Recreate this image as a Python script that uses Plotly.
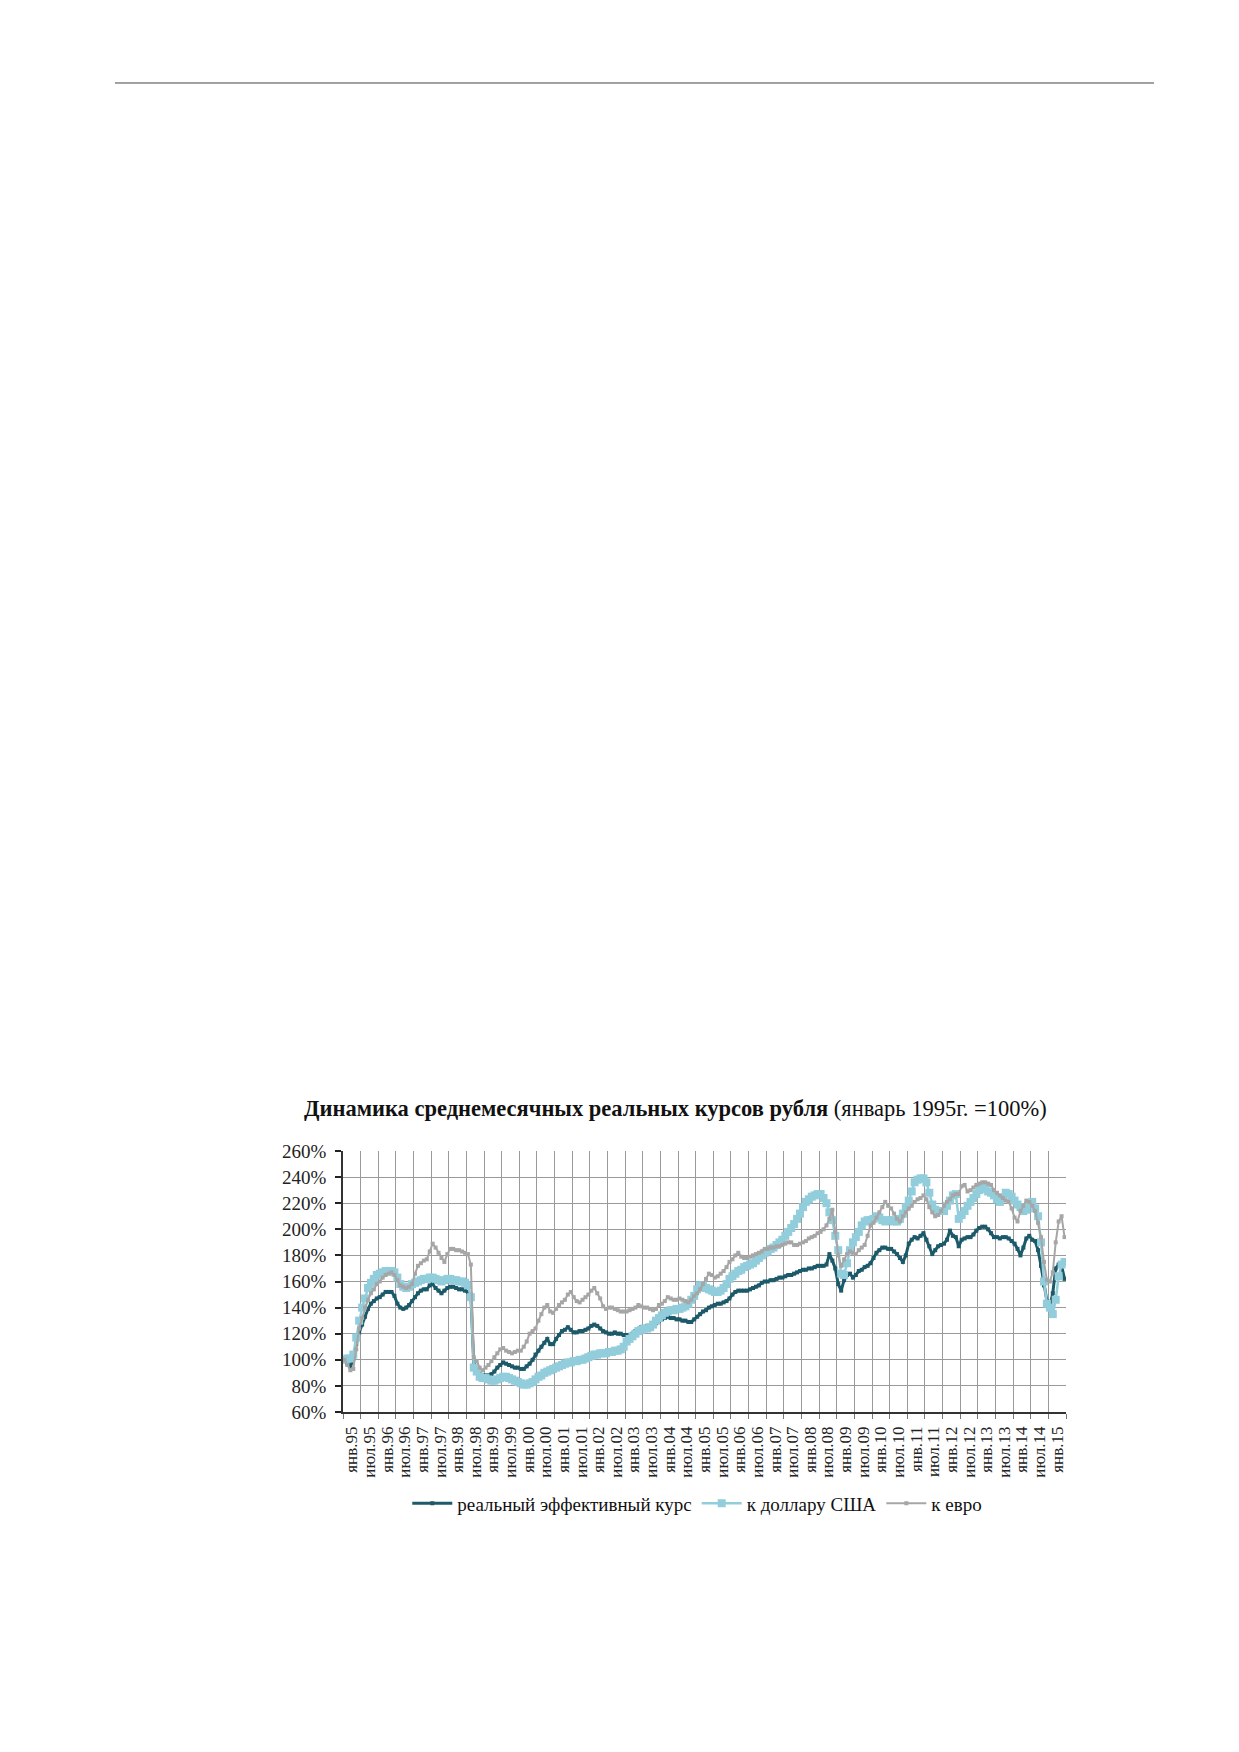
import plotly.graph_objects as go

# monthly values, Jan 1995 - Jun 2015, % of Jan 1995
effective = [
    100, 97, 95, 101, 112, 121, 127, 133, 139, 143, 145, 147,   # 1995
    148, 150, 152, 152, 152, 149, 143, 140, 139, 140, 142, 145,   # 1996
    148, 151, 153, 154, 154, 157, 158, 155, 153, 151, 153, 155,   # 1997
    156, 156, 155, 154, 154, 153, 152, 150, 96, 91, 89, 88,       # 1998
    88, 88, 89, 91, 94, 96, 98, 97, 96, 95, 94, 94,               # 1999
    93, 93, 95, 97, 100, 104, 107, 110, 113, 116, 112, 112,       # 2000
    116, 119, 122, 123, 125, 123, 121, 121, 122, 122, 123, 124,   # 2001
    126, 127, 126, 124, 122, 121, 120, 120, 121, 120, 120, 119,   # 2002
    119, 119, 120, 122, 123, 125, 125, 126, 126, 127, 128, 130,   # 2003
    131, 132, 133, 132, 132, 131, 131, 130, 130, 129, 129, 131,   # 2004
    133, 135, 137, 138, 140, 141, 142, 143, 143, 144, 145, 147,   # 2005
    150, 152, 153, 153, 153, 153, 154, 155, 156, 157, 159, 160,   # 2006
    160, 161, 161, 162, 163, 163, 164, 165, 165, 166, 167, 168,   # 2007
    169, 169, 170, 170, 171, 172, 172, 172, 173, 181, 176, 170,   # 2008
    158, 153, 161, 165, 166, 163, 165, 168, 169, 171, 172, 174,   # 2009
    178, 182, 184, 186, 186, 185, 185, 183, 181, 178, 175, 180,   # 2010
    189, 192, 194, 193, 195, 197, 192, 187, 181, 184, 187, 188,   # 2011
    189, 192, 199, 195, 194, 187, 192, 193, 194, 194, 196, 199,   # 2012
    201, 202, 202, 200, 197, 194, 194, 193, 194, 194, 193, 191,   # 2013
    189, 185, 180, 186, 193, 195, 192, 191, 184, 172, 157, 145,   # 2014
    141, 151, 170, 173, 172, 162,                                 # 2015
]

usd = [
    100, 101, 101, 104, 117, 130, 140, 147, 155, 159, 162, 165,   # 1995
    166, 167, 168, 168, 168, 167, 163, 158, 156, 155, 156, 158,   # 1996
    159, 160, 161, 162, 162, 163, 163, 162, 161, 160, 161, 162,   # 1997
    162, 161, 161, 160, 160, 159, 157, 148, 94, 91, 87, 86,       # 1998
    86, 85, 84, 84, 85, 86, 87, 87, 86, 85, 84, 83,               # 1999
    82, 81, 81, 82, 83, 85, 87, 88, 90, 91, 92, 93,               # 2000
    94, 95, 96, 97, 98, 98, 99, 99, 100, 100, 101, 102,           # 2001
    103, 104, 104, 105, 105, 105, 106, 106, 107, 107, 108, 110,   # 2002
    114, 116, 118, 120, 122, 123, 124, 124, 125, 127, 130, 132,   # 2003
    134, 136, 137, 138, 138, 139, 139, 140, 141, 143, 146, 149,   # 2004
    154, 157, 157, 155, 154, 153, 152, 152, 153, 155, 158, 162,   # 2005
    164, 166, 168, 169, 171, 172, 173, 174, 176, 178, 180, 182,   # 2006
    183, 185, 186, 188, 190, 192, 195, 198, 201, 204, 208, 212,   # 2007
    217, 221, 223, 225, 226, 227, 227, 224, 220, 213, 207, 195,   # 2008
    184, 166, 165, 174, 184, 190, 194, 198, 203, 206, 207, 207,   # 2009
    208, 210, 209, 207, 206, 207, 207, 206, 206, 208, 212, 217,   # 2010
    222, 229, 236, 238, 239, 239, 236, 228, 219, 215, 214, 214,   # 2011
    214, 218, 222, 226, 227, 208, 211, 214, 218, 221, 224, 227,   # 2012
    230, 232, 231, 229, 228, 226, 223, 221, 224, 228, 227, 225,   # 2013
    222, 219, 217, 214, 215, 219, 221, 216, 210, 190, 160, 143,   # 2014
    140, 135, 146, 164, 173, 175,                                 # 2015
]

eur = [
    100, 96, 92, 93, 108, 124, 132, 140, 146, 151, 154, 158,      # 1995
    160, 163, 165, 166, 167, 165, 161, 157, 156, 155, 156, 158,   # 1996
    166, 172, 174, 176, 177, 183, 189, 186, 182, 178, 175, 181,   # 1997
    185, 185, 184, 184, 183, 182, 181, 173, 102, 99, 94, 92,      # 1998
    94, 96, 99, 102, 105, 108, 109, 107, 106, 105, 106, 107,      # 1999
    107, 110, 114, 120, 122, 124, 130, 135, 140, 142, 137, 136,   # 2000
    139, 142, 144, 146, 150, 152, 148, 145, 144, 146, 148, 150,   # 2001
    153, 155, 151, 147, 141, 139, 140, 140, 139, 138, 137, 137,   # 2002
    137, 138, 139, 140, 142, 141, 140, 140, 139, 138, 139, 142,   # 2003
    143, 145, 148, 147, 146, 146, 147, 146, 145, 144, 146, 149,   # 2004
    151, 154, 158, 162, 166, 165, 163, 164, 166, 168, 171, 175,   # 2005
    177, 180, 182, 179, 178, 178, 179, 180, 181, 182, 183, 185,   # 2006
    185, 186, 186, 187, 187, 188, 189, 190, 190, 188, 188, 189,   # 2007
    190, 191, 193, 194, 195, 197, 198, 200, 203, 208, 215, 198,   # 2008
    180, 172, 177, 181, 183, 182, 181, 184, 186, 188, 195, 203,   # 2009
    205, 209, 213, 217, 221, 218, 216, 212, 208, 206, 210, 213,   # 2010
    216, 218, 221, 223, 224, 226, 223, 217, 213, 210, 211, 214,   # 2011
    218, 221, 223, 226, 227, 227, 233, 234, 229, 230, 232, 234,   # 2012
    235, 236, 236, 235, 234, 230, 228, 226, 224, 222, 221, 216,   # 2013
    209, 206, 214, 218, 222, 221, 218, 214, 205, 194, 175, 161,   # 2014
    160, 167, 190, 206, 210, 194,                                 # 2015
]

tick_labels = [
    'янв.95', 'июл.95', 'янв.96', 'июл.96', 'янв.97', 'июл.97', 'янв.98', 'июл.98',
    'янв.99', 'июл.99', 'янв.00', 'июл.00', 'янв.01', 'июл.01', 'янв.02', 'июл.02',
    'янв.03', 'июл.03', 'янв.04', 'июл.04', 'янв.05', 'июл.05', 'янв.06', 'июл.06',
    'янв.07', 'июл.07', 'янв.08', 'июл.08', 'янв.09', 'июл.09', 'янв.10', 'июл.10',
    'янв.11', 'июл.11', 'янв.12', 'июл.12', 'янв.13', 'июл.13', 'янв.14', 'июл.14',
    'янв.15',
]

FONT = 'Liberation Serif'
n = len(effective)
x = list(range(n))

fig = go.Figure()
fig.add_trace(go.Scatter(
    x=x, y=effective, name='реальный эффективный курс', mode='lines+markers',
    line=dict(color='#1c5a6a', width=3),
    marker=dict(symbol='square', size=4, color='#1c5a6a'),
))
fig.add_trace(go.Scatter(
    x=x, y=usd, name='к доллару США', mode='lines+markers',
    line=dict(color='#92cddc', width=2.5),
    marker=dict(symbol='square', size=8, color='#92cddc'),
))
fig.add_trace(go.Scatter(
    x=x, y=eur, name='к евро', mode='lines+markers',
    line=dict(color='#a6a6a6', width=2),
    marker=dict(symbol='square', size=4, color='#a6a6a6'),
))

# labels sit in the middle of each half-year slot, grid on the slot borders
label_pos = [6 * k + 2.5 for k in range(len(tick_labels))]
grid_pos = [6 * k - 0.5 for k in range(len(tick_labels) + 1)]

fig.update_xaxes(
    range=[-0.5, n - 0.5],
    tickmode='array', tickvals=label_pos, ticktext=tick_labels,
    tickangle=-90, ticks='', showgrid=False,
    tickfont=dict(family=FONT, size=17, color='#222'),
    ticklabelstandoff=6,
    showline=True, linecolor='#333', linewidth=1.5,
    minor=dict(tickmode='array', tickvals=grid_pos, showgrid=True,
               gridcolor='#9a9a9a', gridwidth=1,
               ticks='outside', ticklen=5, tickcolor='#777'),
    zeroline=False,
)
fig.update_yaxes(
    range=[60, 260], dtick=20, ticksuffix='%',
    tickfont=dict(family=FONT, size=19, color='#222'),
    ticks='outside', ticklen=6, tickcolor='#222', tickwidth=1.5,
    ticklabelstandoff=5,
    showline=True, linecolor='#333', linewidth=1.5,
    gridcolor='#9a9a9a', gridwidth=1, zeroline=False,
)

# the page body keeps its default 8px margin, so the figure is 8px smaller
fig.update_layout(
    width=1231, height=1744, autosize=False,
    margin=dict(l=335, r=173, t=1143, b=340),
    paper_bgcolor='white', plot_bgcolor='white',
    font=dict(family=FONT, color='#111'),
    showlegend=True,
    legend=dict(orientation='h', x=0.49, xanchor='center', y=-0.35, yanchor='middle',
                font=dict(family=FONT, size=19, color='#111'), itemwidth=40,
                tracegroupgap=0),
    annotations=[dict(
        text='<b>Динамика среднемесячных реальных курсов рубля</b> (январь 1995г. =100%)',
        xref='paper', yref='paper', x=0.46, y=1.163, xanchor='center', yanchor='middle',
        showarrow=False, font=dict(family=FONT, size=22.5, color='#111'),
    )],
    shapes=[dict(type='line', xref='paper', yref='paper',
                 x0=-0.3154, x1=1.1217, y0=5.092, y1=5.092,
                 line=dict(color='#444', width=1))],
)

fig.write_html('out.html')
